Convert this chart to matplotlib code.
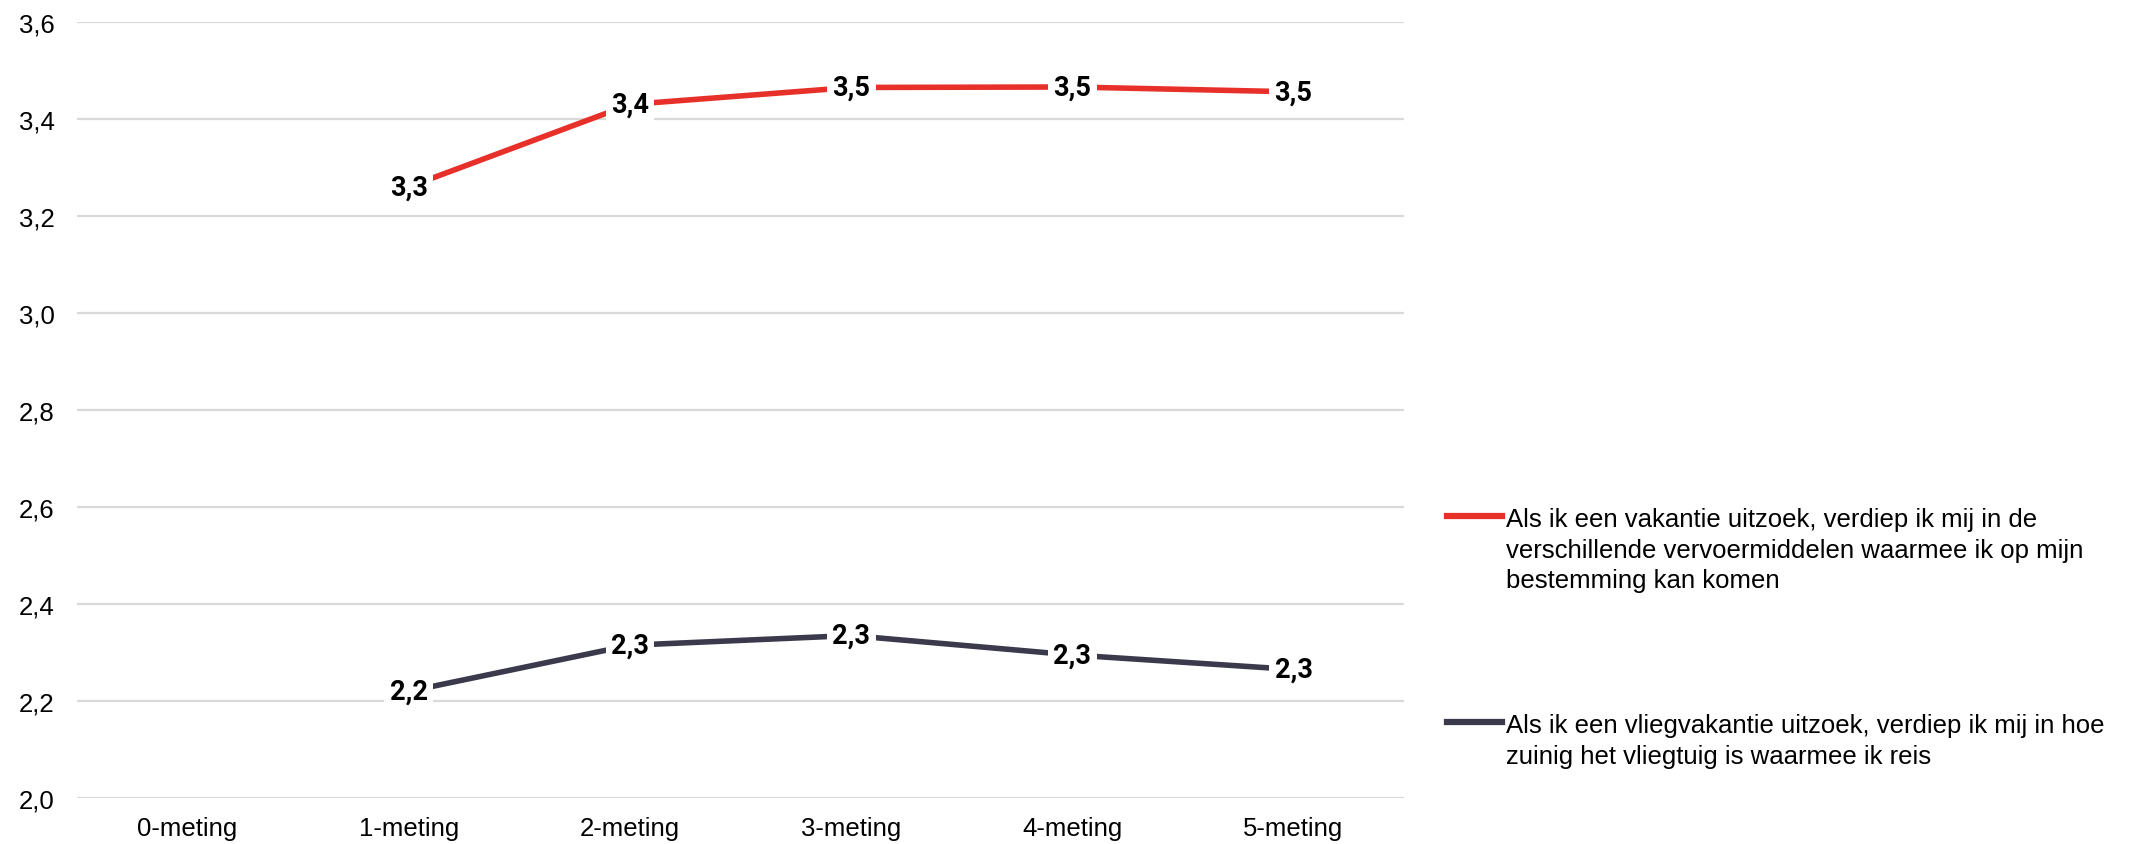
import numpy as np
import matplotlib.pyplot as plt
from matplotlib.lines import Line2D

plt.rcParams['font.family'] = ['Liberation Sans', 'DejaVu Sans']

metingen = ['0-meting', '1-meting', '2-meting', '3-meting', '4-meting', '5-meting']
# 0-meting heeft geen waarde
vervoer = [np.nan, 3.26, 3.43, 3.465, 3.466, 3.456]
vlieg = [np.nan, 2.22, 2.315, 2.335, 2.295, 2.265]

label_vervoer = ("Als ik een vakantie uitzoek, verdiep ik mij in de\n"
                 "verschillende vervoermiddelen waarmee ik op mijn\n"
                 "bestemming kan komen")
label_vlieg = ("Als ik een vliegvakantie uitzoek, verdiep ik mij in hoe\n"
               "zuinig het vliegtuig is waarmee ik reis")

rood = '#e8302a'
donker = '#3a3a4c'

fig = plt.figure(figsize=(21.31, 8.45), dpi=100)
ax = fig.add_axes([0.0361, 0.0544, 0.6228, 0.9184])

x = np.arange(len(metingen))
for vals, kleur in [(vervoer, rood), (vlieg, donker)]:
    ax.plot(x, vals, color=kleur, linewidth=4, solid_capstyle='butt', zorder=3)
    for xi, v in zip(x, vals):
        if np.isnan(v):
            continue
        ax.text(xi, v, f"{v:.1f}".replace('.', ','), ha='center', va='center',
                fontsize=19.5, fontweight='bold', family=['Roboto', 'DejaVu Sans'],
                color='black', zorder=4,
                bbox=dict(boxstyle='square,pad=0.2', fc='white', ec='none'))

ax.set_xlim(-0.5, len(metingen) - 0.5)
ax.set_ylim(2.0, 3.6)
ax.set_yticks(np.arange(2.0, 3.61, 0.2))
ax.set_yticklabels([f"{t:.1f}".replace('.', ',') for t in np.arange(2.0, 3.61, 0.2)])
ax.set_xticks(x)
ax.set_xticklabels(metingen)
ax.tick_params(axis='both', length=0, labelsize=18.5)
ax.tick_params(axis='y', pad=16)
ax.tick_params(axis='x', pad=13)
ax.grid(axis='y', color='#d9d9d9', linewidth=1.6)
ax.set_axisbelow(True)
for s in ax.spines.values():
    s.set_visible(False)

# legenda, handmatig zodat de lijn bij de eerste regel staat
for kleur, tekst, ytop in [(rood, label_vervoer, 1 - 517 / 845), (donker, label_vlieg, 1 - 723 / 845)]:
    fig.add_artist(Line2D([1447 / 2131, 1502 / 2131], [ytop, ytop], color=kleur,
                          linewidth=4.5, transform=fig.transFigure))
    fig.text(1506 / 2131, ytop + 9 / 845, tekst, ha='left', va='top', fontsize=18.5,
             linespacing=1.35)

fig.savefig('out.png', dpi=100)
